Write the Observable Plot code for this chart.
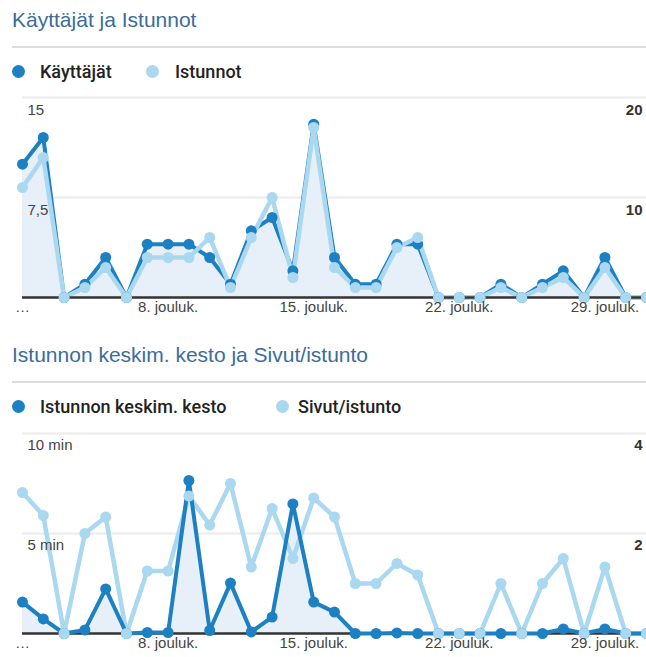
<!DOCTYPE html>
<html>
<head>
<meta charset="utf-8">
<script src="https://cdn.jsdelivr.net/npm/d3@7"></script>
<script src="https://cdn.jsdelivr.net/npm/@observablehq/plot@0.6"></script>
<style>
  html, body { margin: 0; padding: 0; background: #fff; }
  #root { position: relative; width: 646px; height: 657px; overflow: hidden; background: #fff; font-family: "Liberation Sans", Arial, sans-serif; }
  .title { position: absolute; left: 12px; font-family: "Liberation Sans", Arial, sans-serif; font-size: 21px; color: #3b6c9c; white-space: nowrap; }
  .sep { position: absolute; left: 12px; right: 0; height: 2px; background: #dcdcdc; }
  .leg { position: absolute; font-family: Roboto, "Liberation Sans", sans-serif; font-weight: 500; font-size: 18px; color: #222; white-space: nowrap; line-height: 20px; }
  .dot { position: absolute; width: 13px; height: 13px; border-radius: 50%; }
  .chart { position: absolute; left: 0; }
</style>
</head>
<body>
<div id="root"></div>
<script>
// ---- data ----
const days = [1,2,3,4,5,6,7,8,9,10,11,12,13,14,15,16,17,18,19,20,21,22,23,24,25,26,27,28,29,30,31];
const kayttajat = [10,12,0,1,3,0,4,4,4,3,1,5,6,2,13,3,1,1,4,4,0,0,0,1,0,1,2,0,3,0,0];
const istunnot  = [11,14,0,1,3,0,4,4,4,6,1,6,10,2,17,3,1,1,5,6,0,0,0,1,0,1,2,0,3,0,0];
// average session duration, minutes
const kesto = [1.57,0.73,0,0.18,2.23,0,0.05,0.05,7.65,0.15,2.52,0.08,0.82,6.48,1.57,1.07,0,0,0.03,0,0,0,0,0,0,0,0.23,0,0.23,0,0];
const sivutIstunto = [2.82,2.36,0,2,2.33,0,1.25,1.25,2.75,2.17,3,1.33,2.5,1.5,2.71,2.33,1,1,1.4,1.17,0,0,0,1,0,1,1.5,0,1.33,0,0];

const xTicks = [1, 8, 15, 22, 29];
const xLabels = ["…", "8. jouluk.", "15. jouluk.", "22. jouluk.", "29. jouluk."];

const leftTicks1 = [7.5, 15];   const leftLabels1 = ["7,5", "15"];
const rightTicks1 = [10, 20];   const rightLabels1 = ["10", "20"];
const leftTicks2 = [5, 10];     const leftLabels2 = ["5 min", "10 min"];
const rightTicks2 = [2, 4];     const rightLabels2 = ["2", "4"];

const title1 = "Käyttäjät ja Istunnot";
const title2 = "Istunnon keskim. kesto ja Sivut/istunto";
const series1 = ["Käyttäjät", "Istunnot"];
const series2 = ["Istunnon keskim. kesto", "Sivut/istunto"];

// ---- styles ----
const DARK = "#1c80c2";
const LIGHT = "#a9d8f0";
const AREA = "#e7eff8";

const root = document.getElementById("root");
function el(cls, css, text) {
  const d = document.createElement("div");
  d.className = cls;
  Object.assign(d.style, css);
  if (text != null) d.textContent = text;
  root.appendChild(d);
  return d;
}

// header 1
el("title", {top: "8px"}, title1);
el("sep", {top: "46px"});
el("dot", {left: "12px", top: "65px", background: DARK});
el("leg", {left: "40px", top: "62px"}, series1[0]);
el("dot", {left: "146px", top: "65px", background: LIGHT});
el("leg", {left: "175px", top: "62px"}, series1[1]);

// header 2
el("title", {top: "343px"}, title2);
el("sep", {top: "381px"});
el("dot", {left: "12px", top: "400px", background: DARK});
el("leg", {left: "40px", top: "397px"}, series2[0]);
el("dot", {left: "276px", top: "400px", background: LIGHT});
el("leg", {left: "298px", top: "397px"}, series2[1]);

// ---- chart 1 ----
const d1 = days.map((d, i) => ({day: d, a: kayttajat[i], b: istunnot[i] * 15 / 20}));
const common = {
  width: 646, marginLeft: 22, marginRight: 0,
  style: {fontFamily: "'Liberation Sans', Arial, sans-serif", background: "transparent", overflow: "visible"},
  x: {domain: [1, 31]}
};
function axisMarks(lt, ll, rt, rl, scale, dyL) {
  return [
    Plot.text(lt.map((v, i) => ({v, t: ll[i]})), {y: "v", text: "t", frameAnchor: "left", textAnchor: "start", dx: 5, dy: dyL, fontSize: 15, fill: "#444"}),
    Plot.text(rt.map((v, i) => ({v: v * scale, t: rl[i]})), {y: "v", text: "t", frameAnchor: "right", textAnchor: "end", dx: -4, dy: dyL, fontSize: 15, fontWeight: "bold", fill: "#333"}),
    Plot.axisX({ticks: xTicks, tickFormat: d => xLabels[xTicks.indexOf(d)], tickSize: 0, tickPadding: 4, fontSize: 15, fill: "#444", label: null})
  ];
}

const chart1 = Plot.plot({
  ...common,
  height: 232, marginTop: 2, marginBottom: 30,
  y: {domain: [0, 15], axis: null},
  marks: [
    Plot.ruleY(leftTicks1, {stroke: "#ececec", strokeWidth: 2}),
    Plot.areaY(d1, {x: "day", y: "a", fill: AREA}),
    Plot.lineY(d1, {x: "day", y: "a", stroke: DARK, strokeWidth: 4}),
    Plot.lineY(d1, {x: "day", y: "b", stroke: LIGHT, strokeWidth: 4.5}),
    Plot.ruleY([0], {stroke: "#333", strokeWidth: 2.5}),
    Plot.dot(d1, {x: "day", y: "a", r: 5.5, fill: DARK}),
    Plot.dot(d1, {x: "day", y: "b", r: 5.5, fill: LIGHT}),
    ...axisMarks(leftTicks1, leftLabels1, rightTicks1, rightLabels1, 15 / 20, 13)
  ]
});
chart1.classList.add("chart");
chart1.style.position = "absolute";
chart1.style.top = "95px";
root.appendChild(chart1);

// ---- chart 2 ----
const d2 = days.map((d, i) => ({day: d, a: kesto[i], b: sivutIstunto[i] * 10 / 4}));
const chart2 = Plot.plot({
  ...common,
  height: 226, marginTop: 2, marginBottom: 24,
  y: {domain: [0, 10], axis: null},
  marks: [
    Plot.ruleY(leftTicks2, {stroke: "#ececec", strokeWidth: 2}),
    Plot.areaY(d2, {x: "day", y: "a", fill: AREA}),
    Plot.ruleY([0], {stroke: "#333", strokeWidth: 2.5}),
    Plot.lineY(d2, {x: "day", y: "b", stroke: LIGHT, strokeWidth: 4.5}),
    Plot.lineY(d2, {x: "day", y: "a", stroke: DARK, strokeWidth: 4}),
    Plot.dot(d2, {x: "day", y: "a", r: 5.5, fill: DARK}),
    Plot.dot(d2, {x: "day", y: "b", r: 5.5, fill: LIGHT}),
    ...axisMarks(leftTicks2, leftLabels2, rightTicks2, rightLabels2, 10 / 4, 12)
  ]
});
chart2.classList.add("chart");
chart2.style.position = "absolute";
chart2.style.top = "431px";
root.appendChild(chart2);
</script>
</body>
</html>
